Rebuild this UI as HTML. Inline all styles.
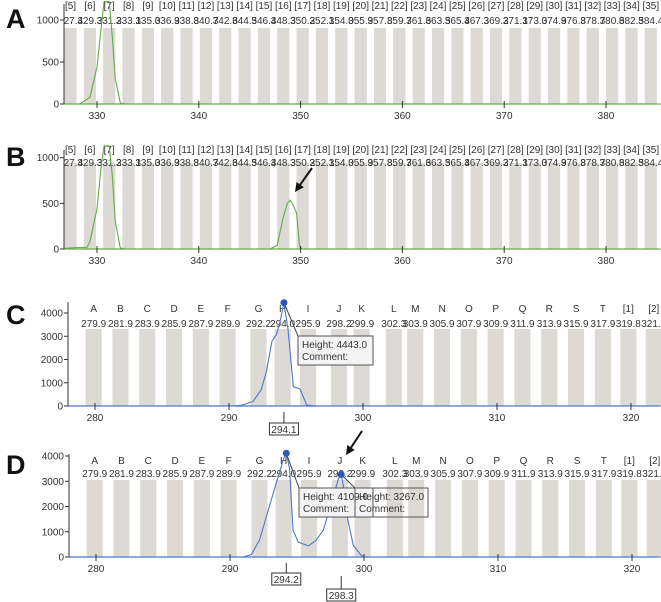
<!DOCTYPE html>
<html><head><meta charset="utf-8"><style>
html,body{margin:0;padding:0;background:#fff}
svg{display:block;font-family:"Liberation Sans",sans-serif}
</style></head><body>
<svg id="fig" width="661" height="602" viewBox="0 0 661 602"></svg>
<script>
// ---------- data ----------
const abBinNames = ["[5]","[6]","[7]","[8]","[9]","[10]","[11]","[12]","[13]","[14]","[15]","[16]","[17]","[18]","[19]","[20]","[21]","[22]","[23]","[24]","[25]","[26]","[27]","[28]","[29]","[30]","[31]","[32]","[33]","[34]","[35]"];
const abBinValues = [327.4,329.3,331.2,333.1,335.0,336.9,338.8,340.7,342.6,344.5,346.4,348.3,350.2,352.1,354.0,355.9,357.8,359.7,361.6,363.5,365.4,367.3,369.2,371.1,373.0,374.9,376.8,378.7,380.6,382.5,384.4];
const cdBinNames = ["A","B","C","D","E","F","G","H","I","J","K","L","M","N","O","P","Q","R","S","T","[1]","[2]"];
const cdBinValues = [279.9,281.9,283.9,285.9,287.9,289.9,292.2,294.0,295.9,298.2,299.9,302.3,303.9,305.9,307.9,309.9,311.9,313.9,315.9,317.9,319.8,321.7];
const abXTicks = [330,340,350,360,370,380];
const abYTicks = [0,500,1000];
const cdXTicks = [280,290,300,310,320];
const cdYTicks = [0,1000,2000,3000,4000];
const traceAx = [326,328.3,329.3,330.0,330.4,330.7,331.2,331.5,331.8,332.3,332.8,386];
const traceAy = [0,0,80,440,900,1220,1220,800,300,10,0,0];
const traceBx = [326,328,329,329.3,330.0,330.4,330.7,331.2,331.5,331.8,332.3,332.8,347,347.7,348.3,348.7,349.0,349.3,349.6,349.9,350.1,386];
const traceBy = [0,15,15,80,440,900,1130,1130,800,300,10,0,0,40,350,500,536,470,394,30,0,0];
const traceCx = [277,290.3,291,291.8,292.4,292.8,293.2,293.55,293.8,294.1,294.4,294.8,295.3,295.8,296.3,296.8,323];
const traceCy = [0,0,40,200,700,1500,2780,3100,3600,4443,3300,830,730,40,10,0,0];
const traceDx = [277,291.0,291.6,292.2,292.9,293.6,294.0,294.2,294.45,294.7,295.1,295.85,296.4,296.96,297.7,298.1,298.3,298.5,298.8,299.2,299.8,300.1,323];
const traceDy = [0,0,100,670,1940,3180,3900,4109,3500,1060,590,440,650,1060,2380,3100,3267,2700,1450,460,60,0,0];
const peakC = [294.1, 4443.0];
const peakD1 = [294.2, 4109.0];
const peakD2 = [298.3, 3267.0];

const NS="http://www.w3.org/2000/svg";
const svg=document.getElementById('fig');
function mk(tag,attrs,parent){const e=document.createElementNS(NS,tag);for(const k in attrs)e.setAttribute(k,attrs[k]);(parent||svg).appendChild(e);return e;}

function panel(o){
  const g=mk('g',{});
  
  
  const sx=v=>o.x0px+(v-o.x0)*o.kx;
  const sy=v=>o.base-v*o.ky;
  const cid='clip-'+o.name;
  const cp=mk('clipPath',{id:cid},g);
  mk('rect',{x:o.axisX,y:o.clipTop,width:661-o.axisX,height:o.base-o.clipTop+1},cp);
  const tcp=mk('clipPath',{id:cid+'t'},g);
  mk('rect',{x:o.axisX,y:0,width:661-o.axisX,height:o.base+1},tcp);
  const bars=mk('g',{'clip-path':'url(#'+cid+')'},g);
  o.binValues.forEach((v,i)=>{
    const r=mk('rect',{x:sx(v-0.6),y:o.barTop,width:1.2*o.kx,height:o.base-o.barTop,fill:'#ddd9d4'},bars);
    
    
  });
  const labs=mk('g',{'clip-path':'url(#'+cid+'t)'},g);
  o.binValues.forEach((v,i)=>{
    const t1=mk('text',{x:sx(v),y:o.nameY,'font-size':10,'text-anchor':'middle',fill:'#333'},labs);
    t1.textContent=o.binNames[i];
    
    
    const t2=mk('text',{x:sx(v),y:o.valY,'font-size':10,'text-anchor':'middle',fill:'#333'},labs);
    t2.textContent=v.toFixed(1);
    
    
  });
  mk('line',{x1:o.axisX,y1:o.base,x2:658,y2:o.base,stroke:o.color,'stroke-width':1.2},g);
  let d='';o.tx.forEach((x,i)=>{d+=(i?'L':'M')+sx(x).toFixed(1)+','+sy(o.ty[i]).toFixed(1);});
  const p=mk('path',{d:d,fill:'none',stroke:o.color,'stroke-width':1.1,'stroke-linejoin':'round','clip-path':'url(#'+cid+'t)'},g);
  
  
  mk('line',{x1:o.axisX,y1:o.axisTop,x2:o.axisX,y2:o.base,stroke:'#333','stroke-width':1},g);
  o.yTicks.forEach(v=>{
    mk('line',{x1:o.axisX-4,y1:sy(v),x2:o.axisX,y2:sy(v),stroke:'#333'},g);
    const t=mk('text',{x:o.axisX-5,y:sy(v)+3.5,'font-size':10,'text-anchor':'end',fill:'#333'},g);
    t.textContent=v;
    
    
  });
  o.xTicks.forEach(v=>{
    mk('line',{x1:sx(v),y1:o.base-3,x2:sx(v),y2:o.base+4,stroke:'#333'},g);
    const t=mk('text',{x:sx(v),y:o.base+15,'font-size':10,'text-anchor':'middle',fill:'#333'},g);
    t.textContent=v;
    
    
  });
  const L=mk('text',{x:6,y:o.letterY,'font-size':27,'font-weight':'bold',fill:'#111'},g);
  L.textContent=o.letter;
  
  
  return {g,sx,sy};
}

const A=panel({name:'panel-a',letter:'A',letterY:28,x0:330,x0px:97,kx:10.18,base:104,ky:0.084,axisX:64,axisTop:4,clipTop:28,barTop:28,nameY:9,valY:24,binNames:abBinNames,binValues:abBinValues,xTicks:abXTicks,yTicks:abYTicks,tx:traceAx,ty:traceAy,color:'#62ad45'});
const B=panel({name:'panel-b',letter:'B',letterY:166,x0:330,x0px:97,kx:10.18,base:249,ky:0.0913,axisX:64,axisTop:150,clipTop:163,barTop:163,nameY:153,valY:166,binNames:abBinNames,binValues:abBinValues,xTicks:abXTicks,yTicks:abYTicks,tx:traceBx,ty:traceBy,color:'#62ad45'});
const C=panel({name:'panel-c',letter:'C',letterY:324,x0:280,x0px:95,kx:13.4,base:406,ky:0.02325,axisX:68,axisTop:302,clipTop:329,barTop:329,nameY:312,valY:327,binNames:cdBinNames,binValues:cdBinValues,xTicks:cdXTicks,yTicks:cdYTicks,tx:traceCx,ty:traceCy,color:'#4f78c8'});
const D=panel({name:'panel-d',letter:'D',letterY:474,x0:280,x0px:96,kx:13.4,base:557,ky:0.02525,axisX:69,axisTop:454,clipTop:480,barTop:480,nameY:464,valY:477,binNames:cdBinNames,binValues:cdBinValues,xTicks:cdXTicks,yTicks:cdYTicks,tx:traceDx,ty:traceDy,color:'#4f78c8'});

function tooltip(P,pk,bx,by,bw,name,fill){
  const x=P.sx(pk[0]),y=P.sy(pk[1]);
  mk('line',{x1:x,y1:y,x2:bx,y2:by,stroke:'#444','stroke-width':1});
  const r=mk('rect',{x:bx,y:by,width:bw,height:29,fill:fill,stroke:'#555','stroke-width':1});
  
  
  const t1=mk('text',{x:bx+4,y:by+12,'font-size':10,fill:'#333'});t1.textContent='Height: '+pk[1].toFixed(1);
  const t2=mk('text',{x:bx+4,y:by+24,'font-size':10,fill:'#333'});t2.textContent='Comment:';
  const c=mk('circle',{cx:x,cy:y,r:3.5,fill:'#2d58b8'});
  
  
}
function marker(P,pk,base,top,name){
  const x=P.sx(pk[0]);
  mk('line',{x1:x,y1:base+6,x2:x,y2:top,stroke:'#333'});
  const r=mk('rect',{x:x-14.5,y:top,width:29,height:12,fill:'#fff',stroke:'#333'});
  
  
  const t=mk('text',{x:x,y:top+10,'font-size':10,'text-anchor':'middle',fill:'#333'});t.textContent=pk[0].toFixed(1);
}
tooltip(C,peakC,298,336,75,'tooltip-c','#f4f4f4');
marker(C,peakC,406,423,'marker-c');
tooltip(D,peakD1,299,488,74,'tooltip-d1','#f4f4f4');
tooltip(D,peakD2,355,488,73,'tooltip-d2','none');
marker(D,peakD1,557,573,'marker-d1');
marker(D,peakD2,570,589,'marker-d2');

function arrow(x1,y1,x2,y2,name){
  const g=mk('g',{});
  
  
  const a=Math.atan2(y2-y1,x2-x1),L=9,W=4.5;
  const bx=x2-L*Math.cos(a),by=y2-L*Math.sin(a);
  mk('line',{x1:x1,y1:y1,x2:bx,y2:by,stroke:'#111','stroke-width':2},g);
  mk('polygon',{points:`${x2},${y2} ${bx+W*Math.sin(a)},${by-W*Math.cos(a)} ${bx-W*Math.sin(a)},${by+W*Math.cos(a)}`,fill:'#111'},g);
}
arrow(312,168,295,192,'arrow-b');
arrow(362,431,346,455,'arrow-d');
</script>
</body></html>
